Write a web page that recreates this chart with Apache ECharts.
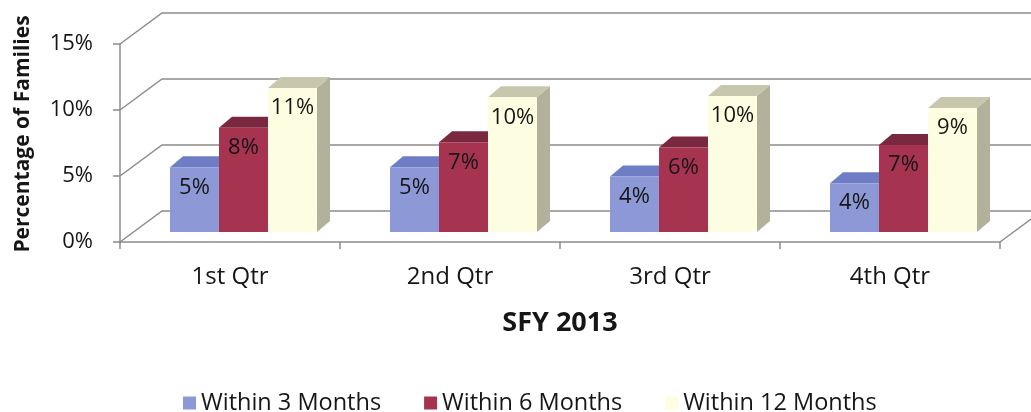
<!DOCTYPE html>
<html>
<head>
<meta charset="utf-8">
<script src="https://cdn.jsdelivr.net/npm/echarts@6/dist/echarts.min.js"></script>
<style>
  html, body { margin: 0; padding: 0; background: #fff; }
  #chart { width: 1031px; height: 412px; }
</style>
</head>
<body>
<div id="chart"></div>
<script>
// data
const categories = ["1st Qtr", "2nd Qtr", "3rd Qtr", "4th Qtr"];
const within3 = [4.9, 4.9, 4.2, 3.7];
const within6 = [7.9, 6.8, 6.4, 6.6];
const within12 = [10.9, 10.2, 10.3, 9.4];
const yTicks = [0, 5, 10, 15];

const FONT = "Open Sans";
const TEXT = "#161616";
const LINE = "#8c8c8c";
// depth offsets (px) for the bars and the back wall
const BAR_DX = 13.5, BAR_DY = -10;
const TOP_DX = 13, TOP_DY = -11;
const WALL_DX = 42, WALL_DY = -31;
const BAR_RATIO = 0.2227;

const chart = echarts.init(document.getElementById("chart"));

function wallSeries() {
  return {
    type: "custom",
    xAxisIndex: 1,
    silent: true,
    z: 1,
    data: yTicks.map(v => [0, v]),
    renderItem: function (params, api) {
      const v = api.value(1);
      const p0 = api.coord([0, v]);
      const p1 = api.coord([4, v]);
      const children = [{
        type: "polyline",
        shape: { points: [p0, [p0[0] + WALL_DX, p0[1] + WALL_DY], [p1[0] + WALL_DX, p0[1] + WALL_DY]] },
        style: { stroke: LINE, lineWidth: 1.5, fill: null }
      }];
      if (v === 0) {
        children.push({
          type: "line",
          shape: { x1: p1[0], y1: p1[1], x2: p1[0] + WALL_DX, y2: p1[1] + WALL_DY },
          style: { stroke: LINE, lineWidth: 1.5 }
        });
      }
      return { type: "group", children: children };
    }
  };
}

function barSeries(name, values, idx, front, top, side) {
  return {
    name: name,
    type: "custom",
    z: 2 + idx,
    itemStyle: { color: front },
    data: values.map((v, i) => [i, v]),
    encode: { x: 0, y: 1 },
    renderItem: function (params, api) {
      const ci = api.value(0);
      const v = api.value(1);
      const c = api.coord([ci, v]);
      const b = api.coord([ci, 0]);
      const bw = api.size([1, 0])[0] * BAR_RATIO;
      const x0 = c[0] - 1.5 * bw + idx * bw + BAR_DX;
      const x1 = x0 + bw;
      const yt = c[1] + BAR_DY;
      const yb = b[1] + BAR_DY;
      return {
        type: "group",
        children: [
          {
            type: "polygon",
            shape: { points: [[x1, yt], [x1 + TOP_DX, yt + TOP_DY], [x1 + TOP_DX, yb + TOP_DY], [x1, yb]] },
            style: { fill: side }
          },
          {
            type: "polygon",
            shape: { points: [[x0, yt], [x1, yt], [x1 + TOP_DX, yt + TOP_DY], [x0 + TOP_DX, yt + TOP_DY]] },
            style: { fill: top }
          },
          {
            type: "rect",
            shape: { x: x0, y: yt, width: bw, height: yb - yt },
            style: { fill: front }
          },
          {
            type: "text",
            style: {
              text: Math.round(v) + "%",
              x: x0 + bw / 2,
              y: yt + 20,
              align: "center",
              verticalAlign: "middle",
              textAlign: "center",
              textVerticalAlign: "middle",
              fontFamily: FONT,
              fontSize: 22,
              fill: TEXT
            }
          }
        ]
      };
    }
  };
}

const option = {
  backgroundColor: "#fff",
  animation: false,
  textStyle: { fontFamily: FONT },
  grid: { left: 120, right: 31, top: 44, bottom: 170, containLabel: false, outerBoundsMode: "none" },
  legend: {
    left: 178,
    top: 386,
    icon: "rect",
    itemWidth: 13,
    itemHeight: 13,
    itemGap: 43,
    textStyle: { fontFamily: FONT, fontSize: 23.5, color: TEXT },
    data: ["Within 3 Months", "Within 6 Months", "Within 12 Months"]
  },
  xAxis: [
    {
      type: "category",
      data: categories,
      name: "SFY 2013",
      nameLocation: "middle",
      nameGap: 68,
      nameTextStyle: { fontFamily: FONT, fontSize: 27, fontWeight: "bold", color: TEXT },
      axisLine: { lineStyle: { color: LINE, width: 1.5 } },
      axisTick: { show: true, length: 7, lineStyle: { color: LINE, width: 1.5 } },
      axisLabel: { margin: 23, fontFamily: FONT, fontSize: 24, color: TEXT },
      splitLine: { show: false }
    },
    { type: "value", min: 0, max: 4, show: false }
  ],
  yAxis: {
    type: "value",
    min: 0,
    max: 15,
    interval: 5,
    name: "Percentage of Families",
    nameLocation: "middle",
    nameGap: 86,
    nameTextStyle: { fontFamily: FONT, fontSize: 21, fontWeight: "bold", color: TEXT, padding: [0, 0, 0, 18] },
    axisLine: { show: true, lineStyle: { color: LINE, width: 1.5 } },
    axisTick: { show: true, length: 7, lineStyle: { color: LINE, width: 1.5 } },
    axisLabel: { margin: 27, fontFamily: FONT, fontSize: 22, color: TEXT, formatter: "{value}%" },
    splitLine: { show: false }
  },
  series: [
    wallSeries(),
    barSeries("Within 3 Months", within3, 0, "#8d98d6", "#6f7dc4", "#5d6ab0"),
    barSeries("Within 6 Months", within6, 1, "#a63450", "#7a2840", "#6e2236"),
    barSeries("Within 12 Months", within12, 2, "#fdfee1", "#c9c6ae", "#b3b09c")
  ]
};

chart.setOption(option);
</script>
</body>
</html>
